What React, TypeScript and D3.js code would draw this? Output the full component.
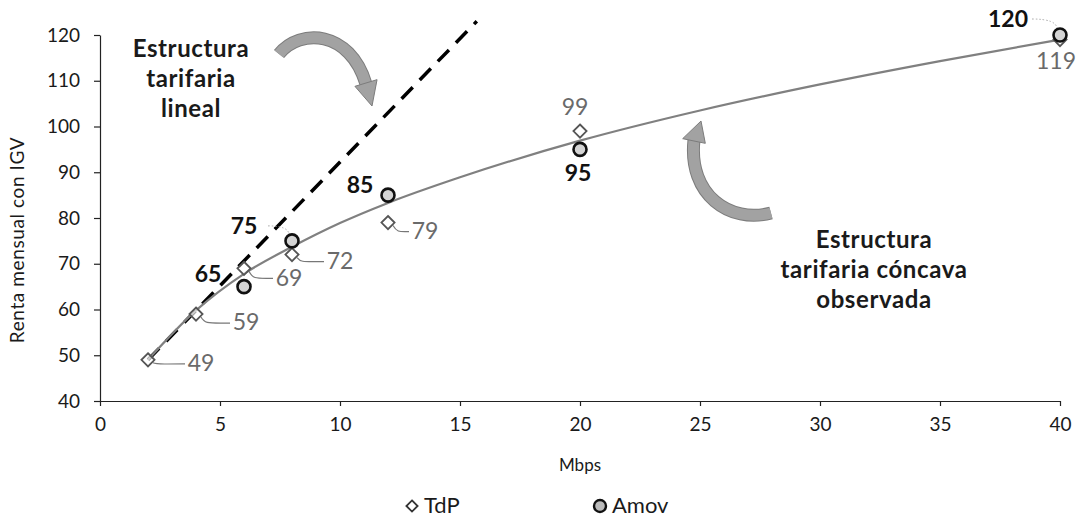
import React, { useEffect, useRef } from 'react';
import * as d3 from 'd3';

// datos
const tdpMbps = [2, 4, 6, 8, 12, 20, 40];
const tdpRenta = [49, 59, 69, 72, 79, 99, 119];
const amovMbps = [6, 8, 12, 20, 40];
const amovRenta = [65, 75, 85, 95, 120];

// curva de tendencia (cóncava)
const trendMbps = [2, 4, 6, 8, 10, 12, 15, 20, 25, 30, 35, 40];
const trendRenta = [49, 59.8, 67.8, 73.7, 78.9, 83.3, 88.9, 96.9, 103.5, 109.2, 114.3, 119];

// recta de la estructura lineal
const linealMbps = [2, 15.7];
const linealRenta = [49, 123];

const xTicks = [0, 5, 10, 15, 20, 25, 30, 35, 40];
const yTicks = [40, 50, 60, 70, 80, 90, 100, 110, 120];

// desplazamiento de las etiquetas (px) respecto al marcador
const tdpLabelOffset = [[53, 3], [50, 8], [45, 9], [48, 6], [37, 8], [-5, -24], [-4, 21]];
const tdpLeader = [true, true, true, true, true, false, false];
const amovLabelOffset = [[-36, -13], [-48, -15], [-28, -10], [-2, 23], [-52, -16]];
const amovLeader = [false, true, false, false, true];

const FONT = 'Lato, "Open Sans", sans-serif';

const App = () => {
  const svgRef = useRef<SVGSVGElement>(null);

  useEffect(() => {
    const root = d3.select(svgRef.current);
    root.selectAll('*').remove();

    const width = 1080;
    const height = 518;
    const margin = { top: 35, left: 100 };
    const innerW = 960;
    const innerH = 366;

    const svg = root.attr('width', width).attr('height', height);
    const g = svg.append('g').attr('transform', `translate(${margin.left},${margin.top})`);

    const x = d3.scaleLinear().domain([0, 40]).range([0, innerW]);
    const y = d3.scaleLinear().domain([40, 120]).range([innerH, 0]);

    // ejes
    const xAxis = g.append('g')
      .attr('transform', `translate(0,${innerH})`)
      .call(d3.axisBottom(x).tickValues(xTicks).tickSize(5).tickSizeOuter(0).tickPadding(12));
    const yAxis = g.append('g')
      .call(d3.axisLeft(y).tickValues(yTicks).tickSize(6).tickSizeOuter(0).tickPadding(14));
    [xAxis, yAxis].forEach(a => {
      a.selectAll('path, line').attr('stroke', '#222').attr('stroke-width', 1.2);
      a.selectAll('text')
        .style('font-family', FONT)
        .style('font-size', '19px')
        .attr('fill', '#1a1a1a');
    });

    // títulos de ejes
    svg.append('text')
      .attr('transform', `translate(24,${margin.top + innerH / 2 + 22}) rotate(-90)`)
      .attr('text-anchor', 'middle')
      .style('font-family', FONT)
      .style('font-size', '19px')
      .style('letter-spacing', '0.6px')
      .attr('fill', '#1a1a1a')
      .text('Renta mensual con IGV');

    svg.append('text')
      .attr('x', margin.left + innerW / 2)
      .attr('y', 471)
      .attr('text-anchor', 'middle')
      .style('font-family', FONT)
      .style('font-size', '17px')
      .attr('fill', '#1a1a1a')
      .text('Mbps');

    // recta lineal punteada
    const lineal = linealMbps.map((m, i) => [x(m), y(linealRenta[i])] as [number, number]);
    g.append('path')
      .attr('d', d3.line()(lineal))
      .attr('fill', 'none')
      .attr('stroke', '#000')
      .attr('stroke-width', 3.5)
      .attr('stroke-dasharray', '16 10');

    // curva cóncava
    const trend = trendMbps.map((m, i) => [x(m), y(trendRenta[i])] as [number, number]);
    g.append('path')
      .attr('d', d3.line().curve(d3.curveMonotoneX)(trend))
      .attr('fill', 'none')
      .attr('stroke', '#808080')
      .attr('stroke-width', 2.2);

    // flechas curvas
    const arrow = (d: string, tail: [number, number], tip: [number, number], end: [number, number], w: number) => {
      g.append('path')
        .attr('transform', `translate(${-margin.left},${-margin.top})`)
        .attr('d', d)
        .attr('fill', 'none')
        .attr('stroke', '#7c7c7c')
        .attr('stroke-width', w + 2);
      g.append('path')
        .attr('transform', `translate(${-margin.left},${-margin.top})`)
        .attr('d', d)
        .attr('fill', 'none')
        .attr('stroke', '#a2a2a2')
        .attr('stroke-width', w);
      const dx = end[0] - tail[0];
      const dy = end[1] - tail[1];
      const len = Math.hypot(dx, dy);
      const ux = dx / len, uy = dy / len;
      const hw = w * 1.05;
      const pts = [
        [end[0] - uy * hw, end[1] + ux * hw],
        [tip[0], tip[1]],
        [end[0] + uy * hw, end[1] - ux * hw],
      ];
      g.append('polygon')
        .attr('transform', `translate(${-margin.left},${-margin.top})`)
        .attr('points', pts.map(p => p.join(',')).join(' '))
        .attr('fill', '#a2a2a2')
        .attr('stroke', '#7c7c7c')
        .attr('stroke-width', 1);
    };
    arrow('M279,54 C300,28 350,30 366,84', [350, 30], [372, 106], [366, 83], 11);
    arrow('M771,213 C730,224 688,195 694,140', [688, 170], [701, 121], [694, 141], 11);

    // anotaciones
    const annot = (lines: string[], cx: number, y0: number) => {
      const t = svg.append('text')
        .attr('text-anchor', 'middle')
        .style('font-family', FONT)
        .style('font-size', '24px')
        .style('font-weight', 'bold')
        .style('letter-spacing', '0.6px')
        .attr('fill', '#1a1a1a');
      lines.forEach((l, i) => {
        t.append('tspan').attr('x', cx).attr('y', y0 + i * 30).text(l);
      });
    };
    annot(['Estructura', 'tarifaria', 'lineal'], 191, 57);
    annot(['Estructura', 'tarifaria cóncava', 'observada'], 874, 248);

    // líneas guía TdP
    tdpMbps.forEach((m, i) => {
      if (!tdpLeader[i]) return;
      const mx = x(m), my = y(tdpRenta[i]);
      const [ox, oy] = tdpLabelOffset[i];
      const lx = mx + ox - 16;
      g.append('path')
        .attr('d', `M${mx + 5},${my + 3} C${mx + 9},${my + oy + 2} ${mx + 12},${my + oy + 1} ${lx},${my + oy + 1}`)
        .attr('fill', 'none')
        .attr('stroke', '#777')
        .attr('stroke-width', 1.2);
    });
    amovMbps.forEach((m, i) => {
      if (!amovLeader[i]) return;
      const mx = x(m), my = y(amovRenta[i]);
      const [ox, oy] = amovLabelOffset[i];
      const lx = mx + ox + 24;
      g.append('path')
        .attr('d', `M${lx},${my + oy} Q${mx - 3},${my + oy} ${mx - 3},${my - 6}`)
        .attr('fill', 'none')
        .attr('stroke', '#aaa')
        .attr('stroke-width', 1)
        .attr('stroke-dasharray', '1.5 2');
    });

    // marcadores TdP (rombos)
    const diamond = d3.symbol().type(d3.symbolDiamond2).size(110);
    g.selectAll('.tdp')
      .data(tdpMbps)
      .enter()
      .append('path')
      .attr('class', 'tdp')
      .attr('d', diamond)
      .attr('transform', (d, i) => `translate(${x(d)},${y(tdpRenta[i])})`)
      .attr('fill', '#fff')
      .attr('fill-opacity', 0.6)
      .attr('stroke', '#555')
      .attr('stroke-width', 1.8);

    // marcadores Amov (círculos)
    g.selectAll('.amov')
      .data(amovMbps)
      .enter()
      .append('circle')
      .attr('class', 'amov')
      .attr('cx', d => x(d))
      .attr('cy', (d, i) => y(amovRenta[i]))
      .attr('r', 6.5)
      .attr('fill', '#d4d4d4')
      .attr('stroke', '#111')
      .attr('stroke-width', 2.6);

    // etiquetas
    g.selectAll('.tdp-label')
      .data(tdpMbps)
      .enter()
      .append('text')
      .attr('class', 'tdp-label')
      .attr('x', (d, i) => x(d) + tdpLabelOffset[i][0])
      .attr('y', (d, i) => y(tdpRenta[i]) + tdpLabelOffset[i][1])
      .attr('dy', '0.36em')
      .attr('text-anchor', 'middle')
      .style('font-family', FONT)
      .style('font-size', '23px')
      .attr('fill', '#6a6a6a')
      .text((d, i) => tdpRenta[i]);

    g.selectAll('.amov-label')
      .data(amovMbps)
      .enter()
      .append('text')
      .attr('class', 'amov-label')
      .attr('x', (d, i) => x(d) + amovLabelOffset[i][0])
      .attr('y', (d, i) => y(amovRenta[i]) + amovLabelOffset[i][1])
      .attr('dy', '0.36em')
      .attr('text-anchor', 'middle')
      .style('font-family', FONT)
      .style('font-size', '23px')
      .style('font-weight', 'bold')
      .attr('fill', '#111')
      .text((d, i) => amovRenta[i]);

    // leyenda
    const legend = svg.append('g');
    legend.append('path')
      .attr('d', d3.symbol().type(d3.symbolDiamond2).size(80))
      .attr('transform', 'translate(412,506)')
      .attr('fill', '#fff')
      .attr('stroke', '#333')
      .attr('stroke-width', 1.8);
    legend.append('text')
      .attr('x', 424)
      .attr('y', 513)
      .style('font-family', FONT)
      .style('font-size', '22px')
      .attr('fill', '#1a1a1a')
      .text('TdP');
    legend.append('circle')
      .attr('cx', 600)
      .attr('cy', 506)
      .attr('r', 6)
      .attr('fill', '#bbb')
      .attr('stroke', '#111')
      .attr('stroke-width', 2.4);
    legend.append('text')
      .attr('x', 612)
      .attr('y', 513)
      .style('font-family', FONT)
      .style('font-size', '22px')
      .attr('fill', '#1a1a1a')
      .text('Amov');
  }, []);

  return (
    <svg ref={svgRef} style={{ position: 'absolute', left: 0, top: 0, background: '#fff' }}></svg>
  );
};

export default App;
